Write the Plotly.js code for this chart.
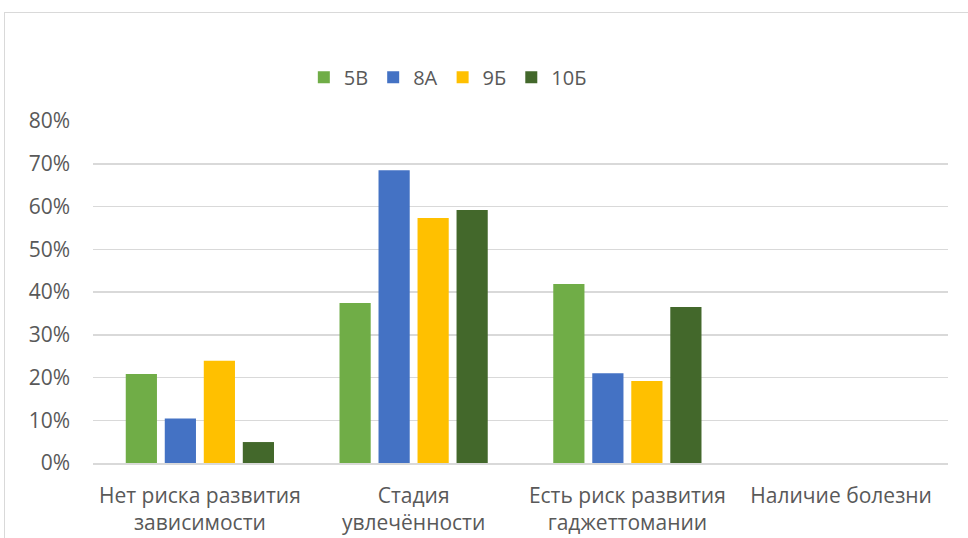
<!DOCTYPE html>
<html><head><meta charset="utf-8">
<script src="https://cdn.plot.ly/plotly-3.0.1.min.js"></script>
<style>html,body{margin:0;padding:0;background:#fff;overflow:hidden}
#frame{position:absolute;left:4px;top:12px;width:1000px;height:600px;border:1.5px solid #d9d9d9;box-sizing:border-box;pointer-events:none}
#chart{position:absolute;left:0;top:0;width:968px;height:538px}</style>
</head><body>
<div id="chart"></div><div id="frame"></div>
<script>
const categories = ['Нет риска развития<br>зависимости', 'Стадия<br>увлечённости', 'Есть риск развития<br>гаджеттомании', 'Наличие болезни'];
const seriesNames = ['5В', '8А', '9Б', '10Б'];
const s5V = [0.208, 0.374, 0.419, 0];
const s8A = [0.104, 0.685, 0.210, 0];
const s9B = [0.239, 0.573, 0.192, 0];
const s10B = [0.049, 0.592, 0.365, 0];
const colors = ['#70ad47', '#4472c4', '#ffc000', '#43682b'];
const values = [s5V, s8A, s9B, s10B];
const traces = values.map((v, i) => ({
  type: 'bar', name: seriesNames[i], x: categories, y: v,
  marker: {color: colors[i], line: {width: 0}}, hoverinfo: 'none'
}));
const fam = '"Open Sans", sans-serif';
const font = {family: fam, color: '#595959', size: 21};
Plotly.newPlot('chart', traces, {
  width: 968, height: 538,
  margin: {l: 93, r: 20, t: 121, b: 75},
  paper_bgcolor: '#fff', plot_bgcolor: '#fff',
  barmode: 'group', bargap: 0.27, bargroupgap: 0.2,
  font: font,
  showlegend: true,
  legend: {orientation: 'h', x: 0.415, xanchor: 'center', y: 1.128, yanchor: 'middle',
    font: {family: fam, color: '#595959', size: 20}, traceorder: 'normal', itemwidth: 30},
  xaxis: {showgrid: false, showline: true, linecolor: '#d9d9d9', linewidth: 1.5, ticks: '',
    tickfont: font, automargin: false, ticklabelstandoff: 13},
  yaxis: {range: [0, 0.8], dtick: 0.1, tickformat: '.0%', showgrid: true, gridcolor: '#d9d9d9', gridwidth: 1.5,
    zeroline: false, showline: false, ticks: '', tickfont: {family: fam, color: '#595959', size: 21}, ticklabelstandoff: 22, automargin: false}
}, {staticPlot: true});
</script>
</body></html>
